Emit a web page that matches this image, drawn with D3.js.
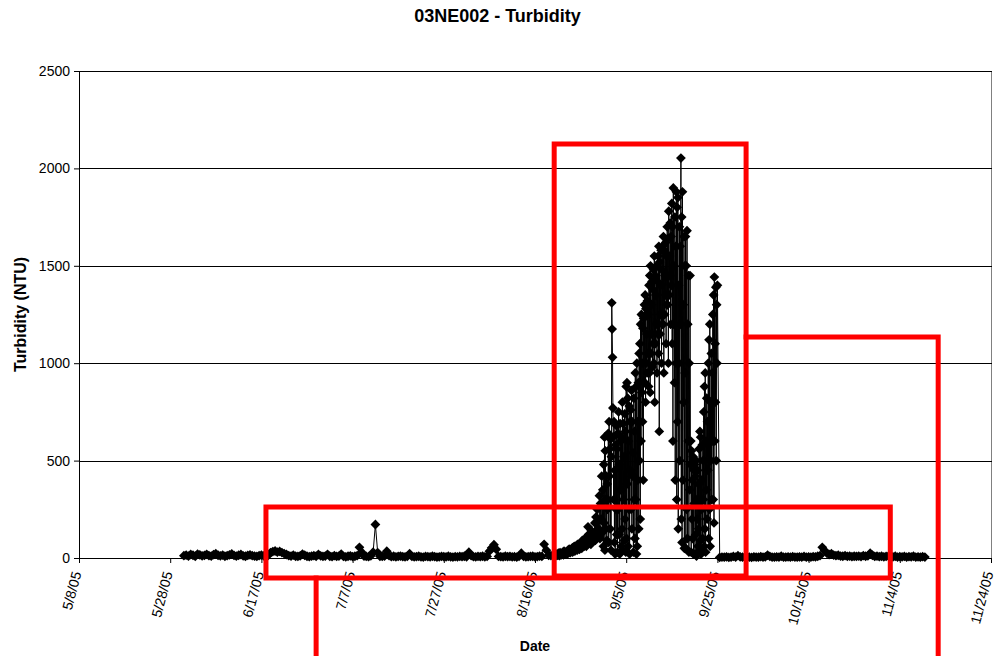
<!DOCTYPE html>
<html>
<head>
<meta charset="utf-8">
<script src="https://cdn.jsdelivr.net/npm/d3@7"></script>
<style>
  body { margin: 0; background: #fff; }
</style>
</head>
<body>
<script>
// variables:
var w = 995
var h = 656
var plotLeft = 79
var plotRight = 991
var plotTop = 71
var plotBottom = 558
var font = 'Arial, "Liberation Sans", sans-serif'

// data: turbidity in NTU
// low flow, one reading every 12 hours from 5/31/05
var earlyStart = '2005-05-31 00:00'
var earlyStep = 12
var earlyNtu = [
  12, 15, 10, 18, 14, 9, 20, 16, 11, 13, 19, 12, 10, 17, 22, 14, 11, 15, 9, 12,
  16, 21, 13, 10, 14, 18, 11, 9, 13, 16, 12, 10, 8, 12, 15, 11, 9, 14, 28, 33,
  36, 30, 34, 28, 22, 18, 12, 10, 15, 9, 8, 11, 20, 14, 9, 7, 10, 12, 9, 18,
  11, 8, 10, 19, 9, 7, 12, 8, 10, 20, 8, 6, 9, 11, 7, 9, 12, 55, 30, 10,
  8, 7, 11, 30, 172, 28, 9, 8, 10, 35, 12, 7, 9, 6, 8, 10, 7, 6, 9, 22,
  8, 6, 7, 9, 6, 5, 8, 7, 6, 9, 7, 5, 6, 8, 7, 6, 9, 6, 5, 7,
  6, 8, 7, 9, 6, 30, 12, 7, 6, 8, 7, 9, 6, 8, 35, 52, 68, 45, 8, 7,
  6, 9, 7, 8, 6, 7, 5, 9, 25, 8, 6, 7, 8, 9, 6, 7, 10, 8, 70, 40, 14, 12
]

// rising limb, one reading every 3 hours from 8/20/05
var riseStart = '2005-08-20 00:00'
var riseStep = 3
var riseNtu = [
  12, 18, 10, 22, 15, 20, 14, 17, // 8/20
  14, 25, 18, 12, 28, 20, 16, 24,
  22, 30, 16, 35, 24, 28, 20, 32,
  30, 22, 40, 26, 45, 32, 28, 38,
  38, 50, 30, 55, 42, 60, 36, 48,
  48, 65, 40, 70, 55, 62, 45, 58, // 8/25
  58, 80, 50, 90, 68, 85, 60, 75,
  75, 95, 60, 110, 85, 160, 120, 80,
  90, 120, 70, 140, 100, 130, 85, 115,
  110, 180, 90, 210, 140, 250, 120, 190,
  150, 320, 100, 280, 200, 420, 130, 350 // 8/30
]

// storm peak, one reading every 2 hours from 8/31/05
var peakStart = '2005-08-31 00:00'
var peakStep = 2
var peakNtu = [
  60, 480, 180, 620, 40, 550, 300, 150, 420, 90, 380, 250, // 8/31
  300, 640, 80, 700, 420, 560, 150, 610, 40, 520, 1310, 1175, // 9/1
  1030, 770, 620, 300, 700, 80, 450, 20, 580, 250, 680, 120,
  560, 30, 640, 250, 750, 120, 480, 20, 690, 350, 600, 60,
  620, 150, 800, 40, 690, 300, 520, 90, 740, 200, 650, 30,
  880, 100, 900, 380, 820, 60, 600, 250, 780, 20, 700, 450, // 9/5
  760, 250, 860, 150, 700, 420, 540, 30, 820, 300, 650, 100,
  950, 300, 880, 20, 1000, 60, 700, 400, 900, 150, 1050, 500,
  1100, 200, 1200, 600, 1250, 850, 1000, 700, 1180, 400, 1230, 900,
  1300, 900, 1350, 800, 1280, 1000, 1150, 950, 1320, 1050, 1250, 880,
  1400, 950, 1450, 850, 1500, 1050, 1300, 1150, 1420, 980, 1380, 1100, // 9/10
  1480, 1000, 1550, 800, 1450, 1100, 1350, 1200, 1500, 950, 1420, 1150,
  1550, 1050, 1600, 650, 1520, 1150, 1400, 1250, 1580, 1000, 1480, 1200,
  1600, 1200, 1650, 950, 1580, 1250, 1450, 1350, 1620, 1100, 1550, 1300,
  1700, 1300, 1640, 1000, 1780, 1350, 1550, 1450, 1720, 1200, 1650, 1400,
  1820, 1100, 1700, 600, 1900, 1200, 1500, 900, 1750, 400, 1600, 1000, // 9/15
  1880, 300, 1800, 700, 1850, 150, 1400, 1000, 1700, 500, 1600, 1200,
  2053, 200, 1750, 80, 1880, 400, 1300, 800, 1650, 50, 1500, 950,
  1650, 50, 1500, 250, 1680, 100, 1200, 600, 1450, 30, 1000, 350,
  1450, 480, 600, 30, 550, 200, 400, 100, 520, 20, 450, 280,
  480, 20, 420, 120, 500, 10, 300, 200, 450, 60, 380, 150, // 9/20
  560, 40, 650, 90, 620, 20, 400, 250, 580, 100, 500, 300,
  750, 60, 880, 150, 950, 30, 600, 350, 820, 200, 700, 450,
  1000, 100, 1120, 250, 1200, 60, 800, 500, 1050, 300, 950, 600,
  1250, 300, 1350, 180, 1442, 600, 1100, 800, 1390, 500, 1300, 1000,
  1400 // 9/25
]

// after the reset, one reading every 12 hours from 9/25/05 noon
var lateStart = '2005-09-25 12:00'
var lateStep = 12
var lateNtu = [
  3, 5, 4, 6, 3, 4, 8, 5, 12, 6, 4, 5, 7, 4, 3, 6, 5, 4, 7, 5,
  6, 14, 8, 5, 4, 6, 5, 9, 4, 5, 6, 4, 7, 5, 4, 6, 5, 8, 4, 6,
  5, 7, 6, 9, 12, 55, 38, 25, 18, 22, 15, 12, 14, 10, 9, 12, 8, 10, 7, 9,
  8, 10, 7, 12, 9, 11, 25, 14, 8, 10, 7, 9, 6, 8, 10, 7, 6, 9, 5, 7,
  6, 8, 5, 7, 6, 9, 5, 6, 4, 7, 5
]

// axis ticks
var yTicks = [0, 500, 1000, 1500, 2000, 2500]
var xTickDates = ['2005-05-08', '2005-05-28', '2005-06-17', '2005-07-07', '2005-07-27',
  '2005-08-16', '2005-09-05', '2005-09-25', '2005-10-15', '2005-11-04', '2005-11-24']

// red annotation outlines, as [time, NTU] corners
var noteStorm = [['2005-08-20 05:00', 2125], ['2005-10-01 07:00', 2125],
  ['2005-10-01 07:00', -92], ['2005-08-20 05:00', -92], ['2005-08-20 05:00', 2125]]
var noteLow = [['2005-06-18 00:00', 262], ['2005-11-01 22:00', 262],
  ['2005-11-01 22:00', -103], ['2005-06-18 00:00', -103], ['2005-06-18 00:00', 262]]
var noteLowTail = [['2005-06-29 00:00', -103], ['2005-06-29 00:00', -560]]
var noteLate = [['2005-10-01 07:00', 1134], ['2005-11-12 10:00', 1134], ['2005-11-12 10:00', -560]]

// helper functions:
var parseTime = d3.timeParse('%Y-%m-%d %H:%M')
var parseDay = d3.timeParse('%Y-%m-%d')
var formatTick = d3.timeFormat('%-m/%-d/%y')

var expand = function (start, stepHours, values) {
  var t0 = parseTime(start)
  return values.map(function (v, i) {
    return { date: d3.timeHour.offset(t0, i * stepHours), ntu: v }
  })
}

var dataset = expand(earlyStart, earlyStep, earlyNtu)
  .concat(expand(riseStart, riseStep, riseNtu))
  .concat(expand(peakStart, peakStep, peakNtu))
  .concat(expand(lateStart, lateStep, lateNtu))

var tickDates = xTickDates.map(function (d) { return parseDay(d) })

var svg = d3.select('body')
  .append('svg')
  .attr('width', w)
  .attr('height', h)

var xScale = d3.scaleTime()
  .domain([tickDates[0], tickDates[tickDates.length - 1]])
  .range([plotLeft, plotRight])

var yScale = d3.scaleLinear()
  .domain([0, 2500])
  .range([plotBottom, plotTop])

// plot border and gridlines
svg.append('rect')
  .attr('x', plotLeft + 0.5)
  .attr('y', plotTop + 0.5)
  .attr('width', plotRight - plotLeft)
  .attr('height', plotBottom - plotTop)
  .attr('fill', 'none')
  .attr('stroke', '#808080')

svg.append('g')
  .selectAll('line')
  .data(yTicks.slice(1))
  .enter()
  .append('line')
  .attr('x1', plotLeft)
  .attr('x2', plotRight + 1)
  .attr('y1', function (d) { return Math.round(yScale(d)) + 0.5 })
  .attr('y2', function (d) { return Math.round(yScale(d)) + 0.5 })
  .attr('stroke', '#000')

// axes
var yAxis = svg.append('g')
  .attr('transform', 'translate(' + plotLeft + ',0)')
  .call(d3.axisLeft(yScale).tickValues(yTicks).tickFormat(d3.format('d'))
    .tickSize(5).tickSizeOuter(0).tickPadding(4))
yAxis.attr('font-family', font).attr('font-size', 14)
yAxis.selectAll('text').attr('fill', '#000')

var xAxis = svg.append('g')
  .attr('transform', 'translate(0,' + plotBottom + ')')
  .call(d3.axisBottom(xScale).tickValues(tickDates).tickFormat(formatTick).tickSize(5).tickSizeOuter(0))
xAxis.attr('font-family', font).attr('font-size', 14)
xAxis.selectAll('text')
  .attr('x', 0)
  .attr('y', 0)
  .attr('dy', '0.3em')
  .attr('transform', 'translate(-2,14) rotate(-75)')
  .attr('text-anchor', 'end')
  .attr('fill', '#000')

// the series: line plus diamond markers
var line = d3.line()
  .x(function (d) { return xScale(d.date) })
  .y(function (d) { return yScale(d.ntu) })

svg.append('path')
  .datum(dataset)
  .attr('d', line)
  .attr('fill', 'none')
  .attr('stroke', '#000')
  .attr('stroke-width', 1)

var diamond = d3.symbol(d3.symbolSquare, 48)
svg.append('g')
  .selectAll('path')
  .data(dataset)
  .enter()
  .append('path')
  .attr('d', diamond)
  .attr('transform', function (d) {
    return 'translate(' + xScale(d.date) + ',' + yScale(d.ntu) + ') rotate(45)'
  })
  .attr('fill', '#000')

// titles
svg.append('text')
  .text('03NE002 - Turbidity')
  .attr('x', w / 2)
  .attr('y', 22)
  .attr('text-anchor', 'middle')
  .attr('font-family', font)
  .attr('font-weight', 'bold')
  .attr('font-size', 18)

svg.append('text')
  .text('Turbidity (NTU)')
  .attr('transform', 'translate(26,' + (plotTop + plotBottom) / 2 + ') rotate(-90)')
  .attr('text-anchor', 'middle')
  .attr('font-family', font)
  .attr('font-weight', 'bold')
  .attr('font-size', 16)

svg.append('text')
  .text('Date')
  .attr('x', (plotLeft + plotRight) / 2)
  .attr('y', 651)
  .attr('text-anchor', 'middle')
  .attr('font-family', font)
  .attr('font-weight', 'bold')
  .attr('font-size', 14)

// red annotation boxes on top
var noteLine = d3.line()
  .x(function (d) { return xScale(parseTime(d[0])) })
  .y(function (d) { return yScale(d[1]) })

svg.append('g')
  .selectAll('path')
  .data([noteStorm, noteLow, noteLowTail, noteLate])
  .enter()
  .append('path')
  .attr('d', noteLine)
  .attr('fill', 'none')
  .attr('stroke', '#ff0000')
  .attr('stroke-width', 5)
  .attr('stroke-linejoin', 'miter')
  .attr('stroke-linecap', 'square')
</script>
</body>
</html>
